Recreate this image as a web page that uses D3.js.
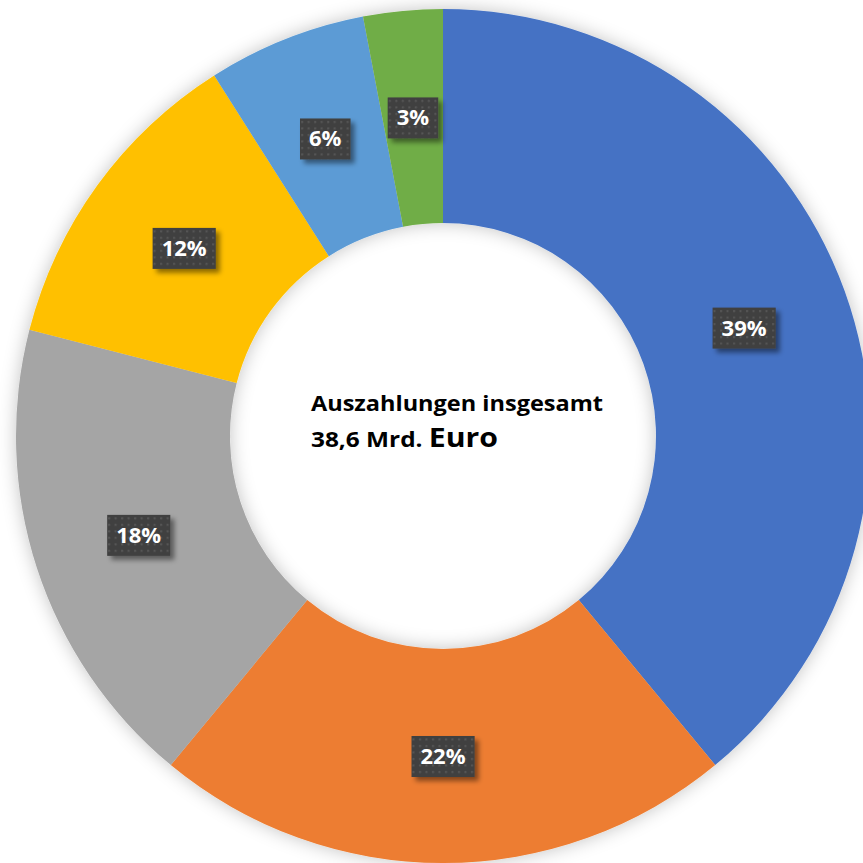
<!DOCTYPE html>
<html>
<head>
<meta charset="utf-8">
<script src="https://cdn.jsdelivr.net/npm/d3@7"></script>
<style>
  html, body { margin: 0; padding: 0; background: #fff; }
  svg { display: block; }
</style>
</head>
<body>
<svg id="chart"></svg>
<script>
const categories = ["A", "B", "C", "D", "E", "F"];
const shares = [39, 22, 18, 12, 6, 3];
const colors = ["#4472C4", "#ED7D31", "#A5A5A5", "#FFC000", "#5B9BD5", "#70AD47"];
const titleLine1 = "Auszahlungen insgesamt";
const titleLine2a = "38,6 Mrd.";
const titleLine2b = "Euro";

const width = 863;
const height = 863;
const cx = 443, cy = 436;
const outerR = 427, innerR = 213;

const svg = d3.select("#chart")
    .attr("width", width)
    .attr("height", height);

const defs = svg.append("defs");

// soft shadow round the ring
const ringShadow = defs.append("filter")
    .attr("id", "ring-shadow")
    .attr("x", "-10%").attr("y", "-10%")
    .attr("width", "120%").attr("height", "120%");
ringShadow.append("feGaussianBlur").attr("in", "SourceAlpha").attr("stdDeviation", 9).attr("result", "blur");
ringShadow.append("feFlood").attr("flood-color", "#000").attr("flood-opacity", 0.24);
ringShadow.append("feComposite").attr("in2", "blur").attr("operator", "in").attr("result", "shadow");
const rm = ringShadow.append("feMerge");
rm.append("feMergeNode").attr("in", "shadow");
rm.append("feMergeNode").attr("in", "SourceGraphic");

// label box shadow
const boxShadow = defs.append("filter")
    .attr("id", "box-shadow")
    .attr("x", "-30%").attr("y", "-30%")
    .attr("width", "160%").attr("height", "160%");
boxShadow.append("feGaussianBlur").attr("in", "SourceAlpha").attr("stdDeviation", 2.5).attr("result", "blur");
boxShadow.append("feOffset").attr("in", "blur").attr("dx", 4).attr("dy", 4).attr("result", "off");
boxShadow.append("feFlood").attr("flood-color", "#000").attr("flood-opacity", 0.45);
boxShadow.append("feComposite").attr("in2", "off").attr("operator", "in").attr("result", "shadow");
const bm = boxShadow.append("feMerge");
bm.append("feMergeNode").attr("in", "shadow");
bm.append("feMergeNode").attr("in", "SourceGraphic");

// dotted fill of the label boxes
const pat = defs.append("pattern")
    .attr("id", "dots")
    .attr("patternUnits", "userSpaceOnUse")
    .attr("width", 6.5).attr("height", 6.5);
pat.append("rect").attr("width", 6.5).attr("height", 6.5).attr("fill", "#404040");
pat.append("rect").attr("x", 2).attr("y", 2).attr("width", 2).attr("height", 2).attr("fill", "#575757");

const pie = d3.pie()
    .sort(null)
    .value(d => d);

const arc = d3.arc()
    .innerRadius(innerR)
    .outerRadius(outerR);

const arcs = pie(shares);

const g = svg.append("g")
    .attr("transform", `translate(${cx},${cy})`);

g.append("g")
    .attr("filter", "url(#ring-shadow)")
    .selectAll("path")
    .data(arcs)
    .enter().append("path")
    .attr("d", arc)
    .attr("fill", (d, i) => colors[i]);

const label = g.selectAll(".label")
    .data(arcs)
    .enter().append("g")
    .attr("class", "label")
    .attr("transform", d => `translate(${arc.centroid(d)})`);

label.append("text")
    .attr("text-anchor", "middle")
    .attr("dy", "0.36em")
    .attr("fill", "#fff")
    .style("font-family", "'Open Sans', Lato, sans-serif")
    .style("font-weight", "bold")
    .style("font-size", "22px")
    .text(d => d.data + "%");

label.each(function() {
    const t = d3.select(this).select("text");
    const bb = t.node().getBBox();
    d3.select(this).insert("rect", "text")
        .attr("x", bb.x - 9)
        .attr("y", -20)
        .attr("width", bb.width + 18)
        .attr("height", 41)
        .attr("fill", "url(#dots)")
        .attr("filter", "url(#box-shadow)");
});

svg.append("text")
    .attr("x", 311)
    .attr("y", 411)
    .attr("fill", "#000")
    .attr("textLength", 292)
    .attr("lengthAdjust", "spacingAndGlyphs")
    .style("font-family", "'Open Sans', Lato, sans-serif")
    .style("font-weight", "bold")
    .style("font-size", "21px")
    .text(titleLine1);

const line2 = svg.append("text")
    .attr("x", 311)
    .attr("y", 447)
    .attr("fill", "#000")
    .attr("textLength", 187)
    .attr("lengthAdjust", "spacingAndGlyphs")
    .style("font-family", "'Open Sans', Lato, sans-serif")
    .style("font-weight", "bold")
    .style("font-size", "21px");
line2.append("tspan").text(titleLine2a + " ");
line2.append("tspan").style("font-size", "26px").text(titleLine2b);
</script>
</body>
</html>
